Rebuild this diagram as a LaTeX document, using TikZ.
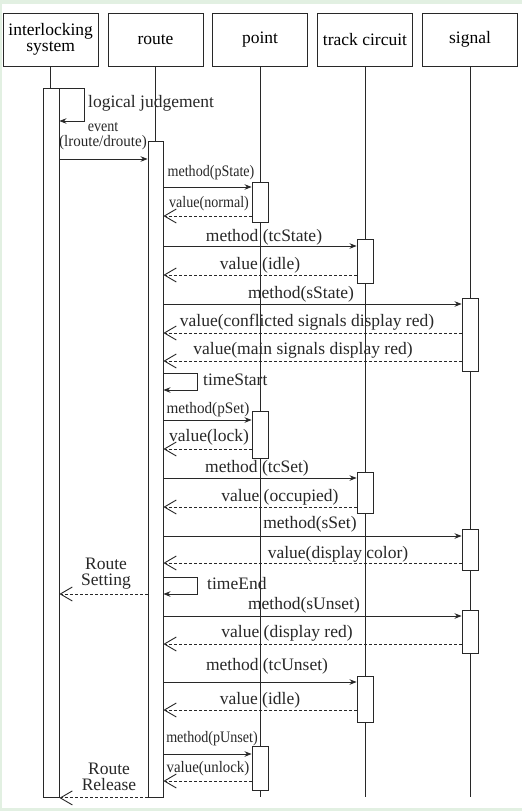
\documentclass[tikz,border=0pt]{standalone}
\usepackage{fontspec}
\setmainfont{Liberation Serif}
\usepackage{graphicx}
\usetikzlibrary{%
  arrows.meta%
}
\definecolor{bggreen}{RGB}{226,240,226}
\definecolor{ink}{RGB}{40,40,40}
\newcommand{\nar}[2][0.88]{\scalebox{#1}[1]{#2}}

\begin{document}
\begin{tikzpicture}[x=1pt,y=-1pt,
    obj/.style={draw=ink,line width=0.9pt,minimum width=95pt,minimum height=53pt,
      inner sep=1pt,align=center,font=\fontsize{17.5}{16.5}\selectfont},
    act/.style={draw=ink,fill=white,line width=0.9pt,minimum width=16pt,inner sep=0pt,anchor=north},
    lbl/.style={anchor=base,inner sep=0pt,text=ink,font=\fontsize{17.5}{17}\selectfont},
    slbl/.style={anchor=base,inner sep=0pt,text=ink,font=\fontsize{16}{16}\selectfont},
    call/.style={draw=ink,line width=0.9pt,-{Stealth[length=7pt,width=5.5pt]}},
    ret/.style={draw=ink,line width=0.9pt,dash pattern=on 3pt off 2pt,
      -{Straight Barb[length=12pt,width=14pt,line width=0.9pt]}}]
      \useasboundingbox (0,0) rectangle (522,811);
      \fill [bggreen] (0,0) rectangle (522,811);
      \fill [white] (2,4) rectangle (522,808);
      % objects
      \node [obj] (isys) at (50.7,39.5) {interlocking\\[-1pt]system};
      \node [obj] (route) at (155.5,39.5) {route};
      \node [obj] (point) at (260,39.5) {point};
      \node [obj] (tc) at (365,39.5) {track circuit};
      \node [obj] (signal) at (470,39.5) {signal};
      \coordinate (end) at (0,797);
      \foreach \o in {isys,route,point,tc,signal}
        \draw [ink,line width=0.9pt] (\o.south) -- (\o.south |- end);
      % activations
      \node [act,minimum height=709pt] (isysact) at (51,88) {};
      \node [act,minimum width=15pt,minimum height=656pt] (routeact) at (155.5,141) {};
      \node [act,minimum height=40pt] (pact1) at (260,182) {};
      \node [act,minimum height=47pt] (pact2) at (260,411) {};
      \node [act,minimum height=44pt] (pact3) at (260,746) {};
      \node [act,minimum height=44pt] (tcact1) at (365,239) {};
      \node [act,minimum height=41pt] (tcact2) at (365,472) {};
      \node [act,minimum height=46pt] (tcact3) at (365,676) {};
      \node [act,minimum height=73pt] (sact1) at (470,298) {};
      \node [act,minimum height=41pt] (sact2) at (470,529) {};
      \node [act,minimum height=43pt] (sact3) at (470,610) {};
      % message levels
      \foreach \n/\y in {lj/121,ev/159,ps/187,psr/216,tcs/246,tcsr/275,ss/304,ssr/333,
          ssr2/361,tsa/373,tsb/390,pset/420,psetr/449,tcset/478,tcsetr/507,sset/536,
          ssetr/563,tea/577,rset/594,sun/616,sunr/644,tcun/682,tcunr/710,pun/754,punr/781}
        \coordinate (\n) at (0,\y);
      \coordinate (ljx) at (84,0);
      \coordinate (tx) at (197,0);
      % interlocking system
      \draw [call] (isysact.north east) -| (ljx |- lj) -- (isysact.east |- lj);
      \node [lbl,anchor=base west] (judge) at (88,107) {logical judgement};
      \draw [call] (isysact.east |- ev) -- (routeact.west |- ev);
      \node [slbl] (evt) at (103,131) {\nar{event}};
      \node [slbl] (evtarg) at (103,146) {\nar[0.94]{(lroute/droute)}};
      % route setting
      \draw [call] (routeact.east |- ps) -- (pact1.west |- ps);
      \node [slbl] (psl) at (211,176) {\nar{method(pState)}};
      \draw [ret] (pact1.west |- psr) -- (routeact.east |- psr);
      \node [slbl] (psrl) at (209,207) {\nar{value(normal)}};
      \draw [call] (routeact.east |- tcs) -- (tcact1.west |- tcs);
      \node [lbl] (tcsl) at (264,241) {method (tcState)};
      \draw [ret] (tcact1.west |- tcsr) -- (routeact.east |- tcsr);
      \node [lbl] (tcsrl) at (260,269) {value (idle)};
      \draw [call] (routeact.east |- ss) -- (sact1.west |- ss);
      \node [lbl] (ssl) at (301,298) {method(sState)};
      \draw [ret] (sact1.west |- ssr) -- (routeact.east |- ssr);
      \node [lbl] (ssrl) at (307,326) {value(conflicted signals display red)};
      \draw [ret] (sact1.west |- ssr2) -- (routeact.east |- ssr2);
      \node [lbl] (ssr2l) at (303,354) {value(main signals display red)};
      \draw [call] (routeact.east |- tsa) -| (tx |- tsb) -- (routeact.east |- tsb);
      \node [lbl,anchor=base west] (tsl) at (203,385) {timeStart};
      \draw [call] (routeact.east |- pset) -- (pact2.west |- pset);
      \node [slbl] (psetl) at (208,413) {\nar[0.95]{method(pSet)}};
      \draw [ret] (pact2.west |- psetr) -- (routeact.east |- psetr);
      \node [lbl] (psetrl) at (209,441) {value(lock)};
      \draw [call] (routeact.east |- tcset) -- (tcact2.west |- tcset);
      \node [lbl] (tcsetl) at (257,472) {method (tcSet)};
      \draw [ret] (tcact2.west |- tcsetr) -- (routeact.east |- tcsetr);
      \node [lbl] (tcsetrl) at (280,501) {value (occupied)};
      \draw [call] (routeact.east |- sset) -- (sact2.west |- sset);
      \node [lbl] (ssetl) at (310,528) {method(sSet)};
      \draw [ret] (sact2.west |- ssetr) -- (routeact.east |- ssetr);
      \node [lbl] (ssetrl) at (338,558) {value(display color)};
      \draw [call] (routeact.east |- tea) -| (tx |- rset) -- (routeact.east |- rset);
      \node [lbl,anchor=base west] (tel) at (207,589) {timeEnd};
      \draw [ret] (routeact.west |- rset) -- (isysact.east |- rset);
      \node [lbl] (rsetl) at (106,569) {Route};
      \node [lbl] (rsetl2) at (106,585) {Setting};
      % route release
      \draw [call] (routeact.east |- sun) -- (sact3.west |- sun);
      \node [lbl] (sunl) at (304,609) {method(sUnset)};
      \draw [ret] (sact3.west |- sunr) -- (routeact.east |- sunr);
      \node [lbl] (sunrl) at (287,637) {value (display red)};
      \draw [call] (routeact.east |- tcun) -- (tcact3.west |- tcun);
      \node [lbl] (tcunl) at (267,670) {method (tcUnset)};
      \draw [ret] (tcact3.west |- tcunr) -- (routeact.east |- tcunr);
      \node [lbl] (tcunrl) at (260,704) {value (idle)};
      \draw [call] (routeact.east |- pun) -- (pact3.west |- pun);
      \node [slbl] (punl) at (212,742) {\nar{method(pUnset)}};
      \draw [ret] (pact3.west |- punr) -- (routeact.east |- punr);
      \node [slbl] (punrl) at (208,772) {\nar[0.93]{value(unlock)}};
      \draw [ret] (routeact.south west) -- (isysact.south east);
      \node [lbl] (rrell) at (109,774) {Route};
      \node [lbl] (rrell2) at (109,790) {Release};
    \end{tikzpicture}
\end{document}
